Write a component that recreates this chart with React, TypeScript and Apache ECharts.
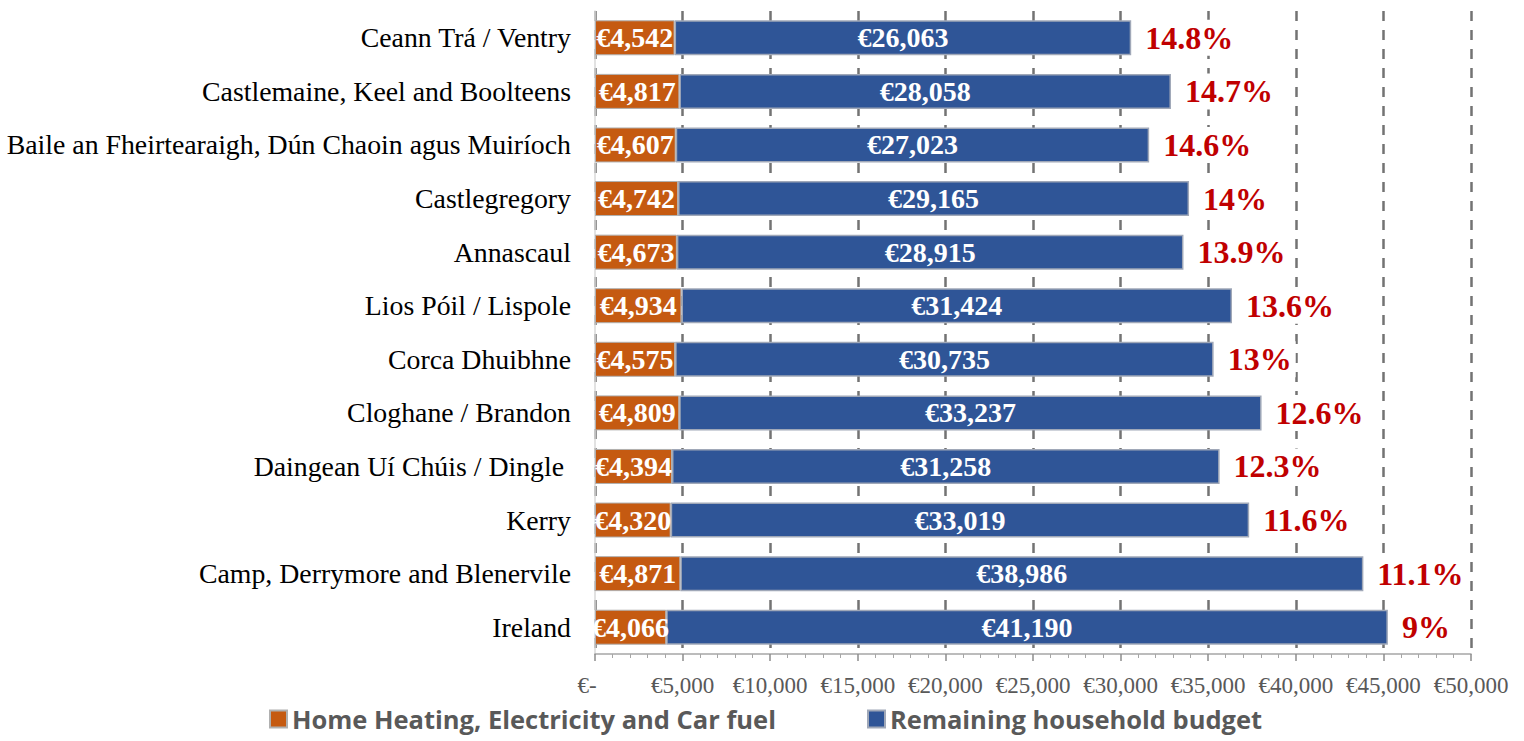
import React, { useEffect, useRef } from "react";
import * as echarts from "echarts";

const categories = [
  "Ceann Trá / Ventry",
  "Castlemaine, Keel and Boolteens",
  "Baile an Fheirtearaigh, Dún Chaoin agus Muiríoch",
  "Castlegregory",
  "Annascaul",
  "Lios Póil / Lispole",
  "Corca Dhuibhne",
  "Cloghane / Brandon",
  "Daingean Uí Chúis / Dingle ",
  "Kerry",
  "Camp, Derrymore and Blenervile",
  "Ireland",
];
const energyCost = [4542, 4817, 4607, 4742, 4673, 4934, 4575, 4809, 4394, 4320, 4871, 4066];
const remainingBudget = [26063, 28058, 27023, 29165, 28915, 31424, 30735, 33237, 31258, 33019, 38986, 41190];
const shareLabels = ["14.8%", "14.7%", "14.6%", "14%", "13.9%", "13.6%", "13%", "12.6%", "12.3%", "11.6%", "11.1%", "9%"];

const SERIES_ENERGY = "Home Heating, Electricity and Car fuel";
const SERIES_REMAIN = "Remaining household budget";

const fmtEuro = (v: number) => (v === 0 ? "€-" : "€" + v.toLocaleString("en-US"));

export default function App() {
  const ref = useRef<HTMLDivElement>(null);
  useEffect(() => {
    if (!ref.current) return;
    const chart = echarts.init(ref.current, undefined, { renderer: "svg" });
    const serif = "'Liberation Serif', 'Times New Roman', serif";
    const legendText = { fontFamily: "'Open Sans', sans-serif", fontWeight: "bold", fontSize: 25.5, color: "#595959" };
    chart.setOption({
      animation: false,
      backgroundColor: "#ffffff",
      grid: { left: 595, right: 53, top: 11, bottom: 87, containLabel: false },
      legend: [
        {
          data: [SERIES_ENERGY],
          left: 264,
          top: 701,
          itemWidth: 17,
          itemHeight: 17,
          icon: "rect",
          textStyle: legendText,
        },
        {
          data: [SERIES_REMAIN],
          left: 862,
          top: 701,
          itemWidth: 17,
          itemHeight: 17,
          icon: "rect",
          textStyle: legendText,
        },
      ],
      xAxis: {
        type: "value",
        min: 0,
        max: 50000,
        interval: 5000,
        axisLine: { show: true, lineStyle: { color: "#a6a6a6", width: 1.5 } },
        axisTick: { show: true, length: 7, lineStyle: { color: "#8c8c8c", width: 1.5 } },
        minorTick: { show: true, splitNumber: 5, length: 4, lineStyle: { color: "#a6a6a6" } },
        splitLine: { show: true, lineStyle: { color: "#737373", type: [10, 9], width: 2.5 } },
        axisLabel: {
          formatter: (v: number) => (v === 0 ? "{z|€-}" : fmtEuro(v)),
          fontFamily: serif,
          fontSize: 23,
          color: "#595959",
          margin: 20,
          rich: {
            z: { fontFamily: serif, fontSize: 23, color: "#595959", padding: [0, 16, 0, 0] },
          },
        },
      },
      yAxis: {
        type: "category",
        inverse: true,
        data: categories,
        axisLine: { show: true, lineStyle: { color: "#d9d9d9", width: 1.5 } },
        axisTick: { show: false },
        axisLabel: { fontFamily: serif, fontSize: 27.8, color: "#000000", margin: 24 },
      },
      series: [
        {
          name: SERIES_ENERGY,
          type: "bar",
          stack: "total",
          barWidth: 35,
          data: energyCost,
          itemStyle: { color: "#C55A11", borderColor: "#b0b0b0", borderWidth: 1 },
          label: {
            show: true,
            position: "inside",
            formatter: (p: any) => fmtEuro(p.value),
            fontFamily: serif,
            fontWeight: "bold",
            fontSize: 28,
            color: "#ffffff",
          },
          z: 3,
        },
        {
          name: SERIES_REMAIN,
          type: "bar",
          stack: "total",
          barWidth: 35,
          data: remainingBudget,
          itemStyle: { color: "#2F5597", borderColor: "#a0a8b8", borderWidth: 1.5 },
          label: {
            show: true,
            position: "inside",
            formatter: (p: any) => fmtEuro(p.value),
            fontFamily: serif,
            fontWeight: "bold",
            fontSize: 28,
            color: "#ffffff",
          },
          z: 2,
        },
        {
          name: "share",
          type: "bar",
          stack: "total",
          barWidth: 35,
          data: categories.map(() => 0),
          itemStyle: { color: "transparent" },
          silent: true,
          label: {
            show: true,
            position: "right",
            distance: 10,
            formatter: (p: any) => shareLabels[p.dataIndex],
            fontFamily: serif,
            fontWeight: "bold",
            fontSize: 32,
            color: "#C00000",
            backgroundColor: "#ffffff",
            padding: [2, 4],
          },
          z: 4,
        },
      ],
    });
    return () => chart.dispose();
  }, []);
  return <div ref={ref} style={{ width: 1524, height: 741, position: "absolute", left: 0, top: 0 }} />;
}
